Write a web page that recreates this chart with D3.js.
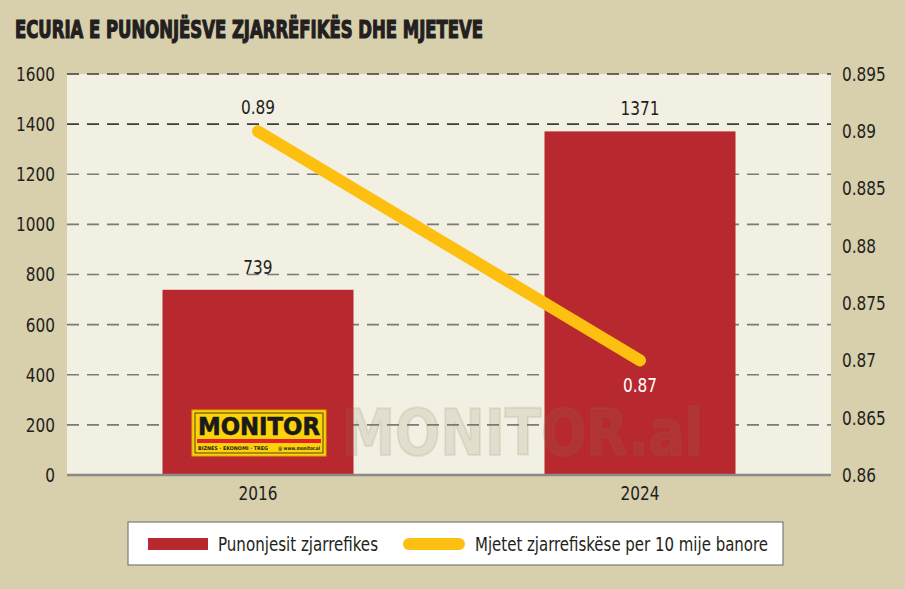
<!DOCTYPE html>
<html>
<head>
<meta charset="utf-8">
<script src="https://cdn.jsdelivr.net/npm/d3@7"></script>
<style>
  body { margin: 0; background: #d8d0ad; }
  svg { display: block; }
  text { font-family: "Liberation Sans Narrow", "DejaVu Sans Condensed", "DejaVu Sans", sans-serif; font-stretch: condensed; fill: #231f20; }
</style>
</head>
<body>
<svg id="chart" width="905" height="589"></svg>
<script>
// data
var years = ["2016", "2024"];
var firefighters = [739, 1371];
var vehiclesPer10k = [0.89, 0.87];
var leftTicks = [0, 200, 400, 600, 800, 1000, 1200, 1400, 1600];
var rightTicks = [0.86, 0.865, 0.87, 0.875, 0.88, 0.885, 0.89, 0.895];
var seriesNames = ["Punonjesit zjarrefikes", "Mjetet zjarrefiskëse per 10 mije banore"];

var svg = d3.select("#chart");
var W = 905, H = 589;
var margin = {top: 74, right: 74, bottom: 114, left: 67};
var width = W - margin.left - margin.right,
    height = H - margin.top - margin.bottom;

svg.append("rect").attr("width", W).attr("height", H).attr("fill", "#d8d0ad");

// title
svg.append("text")
  .attr("class", "fixed")
  .attr("x", 15).attr("y", 38)
  .attr("textLength", 468).attr("lengthAdjust", "spacingAndGlyphs")
  .style("font-size", "25px").style("font-weight", "bold")
  .style("stroke", "#231f20").style("stroke-width", 1.2)
  .text("ECURIA E PUNONJËSVE ZJARRËFIKËS DHE MJETEVE");

var g = svg.append("g").attr("transform", "translate(" + margin.left + "," + margin.top + ")");

var x = d3.scaleBand().domain(years).range([0, width]).paddingInner(0.5).paddingOuter(0.25);
var y = d3.scaleLinear().domain([0, 1600]).range([height, 0]);
var y2 = d3.scaleLinear().domain([0.86, 0.895]).range([height, 0]);

g.append("rect").attr("width", width).attr("height", height).attr("fill", "#f2efe3");

// dashed grid
g.selectAll(".grid")
  .data(leftTicks.filter(function(d) { return d > 0; }))
  .enter().append("line")
  .attr("class", "grid")
  .attr("x1", 0).attr("x2", width)
  .attr("y1", function(d) { return y(d); }).attr("y2", function(d) { return y(d); })
  .attr("stroke", function(d) { return d >= 1400 ? "#3c3c3c" : "#7a7a76"; })
  .attr("stroke-width", 1.6)
  .attr("stroke-dasharray", "12,8");

// bars
g.selectAll(".bar")
  .data(firefighters)
  .enter().append("rect")
  .attr("class", "bar")
  .attr("x", function(d, i) { return x(years[i]); })
  .attr("y", function(d) { return y(d); })
  .attr("width", x.bandwidth())
  .attr("height", function(d) { return height - y(d); })
  .attr("fill", "#b8282f");

// watermark
g.append("text")
  .attr("class", "fixed")
  .attr("x", 275).attr("y", 381)
  .attr("textLength", 361).attr("lengthAdjust", "spacingAndGlyphs")
  .style("font-weight", "bold").style("font-size", "64px")
  .style("fill", "#8a7a50").style("fill-opacity", 0.14)
  .style("stroke", "#8a7a50").style("stroke-opacity", 0.14).style("stroke-width", 2)
  .text("MONITOR.al");

g.selectAll(".barlabel")
  .data(firefighters)
  .enter().append("text")
  .attr("x", function(d, i) { return x(years[i]) + x.bandwidth() / 2; })
  .attr("y", function(d) { return y(d) - 16; })
  .attr("text-anchor", "middle")
  .style("font-size", "20px")
  .text(function(d) { return d; });

// line
var cx = function(d, i) { return x(years[i]) + x.bandwidth() / 2; };
var line = d3.line().x(cx).y(function(d) { return y2(d); });
g.append("path")
  .datum(vehiclesPer10k)
  .attr("d", line)
  .attr("fill", "none")
  .attr("stroke", "#fdc010")
  .attr("stroke-width", 12)
  .attr("stroke-linecap", "round");

g.selectAll(".linelabel")
  .data(vehiclesPer10k)
  .enter().append("text")
  .attr("x", cx)
  .attr("y", function(d, i) { return i === 0 ? y2(d) - 17 : y2(d) + 32; })
  .attr("text-anchor", "middle")
  .style("font-size", "20px")
  .style("fill", function(d, i) { return i === 0 ? "#231f20" : "#ffffff"; })
  .text(function(d) { return d; });

// logo
var logo = g.append("g").attr("transform", "translate(125,336)");
logo.append("rect").attr("width", 134).attr("height", 46).attr("fill", "#fdd20a").attr("stroke", "#e0a800").attr("stroke-width", 1);
logo.append("rect").attr("x", 3).attr("y", 3).attr("width", 128).attr("height", 40).attr("fill", "none").attr("stroke", "#231f20").attr("stroke-width", 0.8);
logo.append("text").attr("class", "fixed").attr("x", 6).attr("y", 25)
  .attr("textLength", 122).attr("lengthAdjust", "spacingAndGlyphs")
  .style("font-size", "25px").style("font-weight", "bold").style("fill", "#1a1a1a")
  .style("stroke", "#1a1a1a").style("stroke-width", 0.6)
  .text("MONITOR");
logo.append("rect").attr("x", 5).attr("y", 29).attr("width", 124).attr("height", 4).attr("fill", "#e4202a");
logo.append("text").attr("class", "fixed").attr("x", 6).attr("y", 40)
  .attr("textLength", 70).attr("lengthAdjust", "spacingAndGlyphs")
  .style("font-size", "5px").style("font-weight", "bold").text("BIZNES · EKONOMI · TREG");
logo.append("text").attr("class", "fixed").attr("x", 86).attr("y", 40)
  .attr("textLength", 42).attr("lengthAdjust", "spacingAndGlyphs")
  .style("font-size", "5px").style("font-weight", "bold").text("@ www.monitor.al");

// baseline
g.append("line")
  .attr("x1", 0).attr("x2", width)
  .attr("y1", height).attr("y2", height)
  .attr("stroke", "#8c8a84").attr("stroke-width", 2.5);

// axes
var leftAxis = g.append("g")
  .call(d3.axisLeft(y).tickValues(leftTicks).tickSize(0).tickPadding(12).tickFormat(d3.format("d")));
var rightAxis = g.append("g")
  .attr("transform", "translate(" + width + ",0)")
  .call(d3.axisRight(y2).tickValues(rightTicks).tickSize(0).tickPadding(11).tickFormat(function(d) { return String(+d.toFixed(3)); }));
var bottomAxis = g.append("g")
  .attr("transform", "translate(0," + height + ")")
  .call(d3.axisBottom(x).tickSize(0).tickPadding(11));
[leftAxis, rightAxis, bottomAxis].forEach(function(a) {
  a.select(".domain").remove();
  a.attr("font-family", null).attr("font-size", null);
  a.selectAll("text").style("font-size", "20px").style("fill", "#231f20");
});

// legend
var lg = svg.append("g").attr("transform", "translate(128,522)");
lg.append("rect").attr("width", 655).attr("height", 43).attr("fill", "#ffffff").attr("stroke", "#7d7b76").attr("stroke-width", 1.2);
lg.append("rect").attr("x", 20).attr("y", 16).attr("width", 60).attr("height", 12).attr("fill", "#b8282f");
lg.append("text").attr("class", "fixed").attr("x", 90).attr("y", 29)
  .attr("textLength", 160).attr("lengthAdjust", "spacingAndGlyphs")
  .style("font-size", "19px").text(seriesNames[0]);
lg.append("line").attr("x1", 281).attr("x2", 331).attr("y1", 22).attr("y2", 22)
  .attr("stroke", "#fdc010").attr("stroke-width", 12).attr("stroke-linecap", "round");
lg.append("text").attr("class", "fixed").attr("x", 347).attr("y", 29)
  .attr("textLength", 293).attr("lengthAdjust", "spacingAndGlyphs")
  .style("font-size", "19px").text(seriesNames[1]);

// if no narrow face was found, squeeze the remaining texts to the narrow width
var probe = svg.append("text").style("font-size", "20px").text("1600");
var natural = probe.node().getComputedTextLength();
probe.remove();
var k = 39 / natural;
if (k < 0.95) {
  svg.selectAll("text:not(.fixed)").each(function() {
    var len = this.getComputedTextLength();
    d3.select(this).attr("textLength", len * k).attr("lengthAdjust", "spacingAndGlyphs");
  });
}
</script>
</body>
</html>
